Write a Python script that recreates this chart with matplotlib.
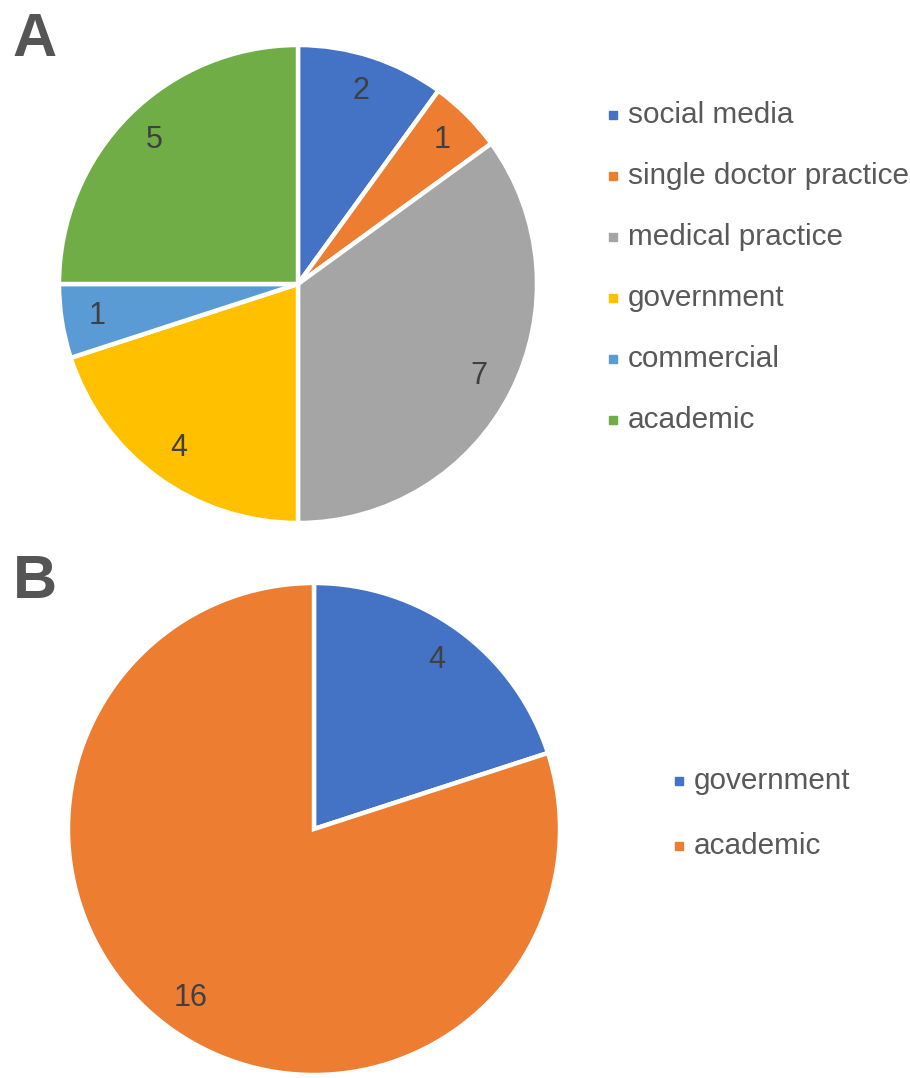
import matplotlib.pyplot as plt
from matplotlib.patches import Rectangle

plt.rcParams['font.family'] = ['Liberation Sans', 'DejaVu Sans']

# Panel A: organisations by type
cats_a = ['social media', 'single doctor practice', 'medical practice',
          'government', 'commercial', 'academic']
vals_a = [2, 1, 7, 4, 1, 5]
cols_a = ['#4472C4', '#ED7D31', '#A5A5A5', '#FFC000', '#5B9BD5', '#70AD47']

# Panel B
cats_b = ['government', 'academic']
vals_b = [4, 16]
cols_b = ['#4472C4', '#ED7D31']

W, H = 910, 1078
fig = plt.figure(figsize=(W / 100, H / 100), dpi=100)
text_col = '#595959'


def pie_panel(cx, cy, r, vals, cols):
    # axes placed in pixel units so the circle lands where we want it
    ax = fig.add_axes([(cx - r) / W, 1 - (cy + r) / H, 2 * r / W, 2 * r / H])
    total = sum(vals)
    ax.pie(vals, colors=cols, startangle=90, counterclock=False, radius=1,
           wedgeprops=dict(edgecolor='white', linewidth=3.2),
           autopct=lambda p: f'{round(p * total / 100)}', pctdistance=0.85,
           textprops=dict(fontsize=22, color='#404040'))
    ax.set_xlim(-1, 1)
    ax.set_ylim(-1, 1)
    ax.set_aspect('equal')
    ax.axis('off')
    return ax


def legend_panel(x, y0, dy, cats, cols):
    for i, (cat, col) in enumerate(zip(cats, cols)):
        y = y0 + i * dy
        fig.patches.append(Rectangle(((x - 4) / W, 1 - (y + 4) / H), 8 / W, 8 / H,
                                     color=col, transform=fig.transFigure))
        fig.text((x + 15) / W, 1 - y / H, cat, fontsize=21.4, color=text_col,
                 ha='left', va='center')


pie_panel(298, 284, 239, vals_a, cols_a)
pie_panel(314, 829, 246, vals_b, cols_b)

legend_panel(613, 115, 61, cats_a, cols_a)
legend_panel(679, 781, 64.5, cats_b, cols_b)

fig.text(12 / W, 1 - 56 / H, 'A', fontsize=44, fontweight='bold', color='#555555',
         ha='left', va='baseline')
fig.text(13 / W, 1 - 598 / H, 'B', fontsize=44, fontweight='bold', color='#555555',
         ha='left', va='baseline')

fig.savefig('out.png', dpi=100, facecolor='white')
